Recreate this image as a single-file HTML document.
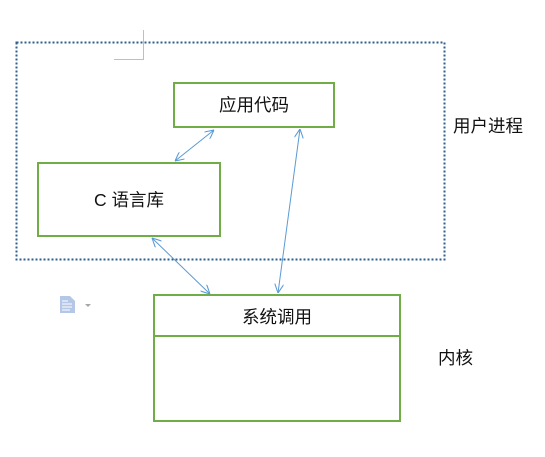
<!DOCTYPE html>
<html><head><meta charset="utf-8"><style>
html,body{margin:0;padding:0;background:#fff;width:545px;height:457px;overflow:hidden}
svg text{font-family:"Liberation Sans","Noto Sans CJK SC",sans-serif;font-size:17.5px;fill:#111}
</style></head><body>
<svg width="545" height="457" viewBox="0 0 545 457" xmlns="http://www.w3.org/2000/svg">
<defs>
<marker id="a" viewBox="0 0 10 10" refX="10" refY="5" markerWidth="9" markerHeight="9" orient="auto-start-reverse" markerUnits="userSpaceOnUse">
<path d="M0,0 L10,5 L0,10" fill="none" stroke="#5b9bd5" stroke-width="1.2"/>
</marker>
</defs>
<path d="M143.5,30 V59.5 H114" fill="none" stroke="#bfbfbf" stroke-width="1"/>
<rect x="16.5" y="42.5" width="428" height="217" fill="none" stroke="#2f5f8f" stroke-width="2" stroke-dasharray="2,2"/>
<rect x="174" y="83" width="160" height="44" fill="#fff" stroke="#70ad47" stroke-width="2"/>
<text x="254" y="111" text-anchor="middle">应用代码</text>
<rect x="38" y="163" width="182" height="73" fill="#fff" stroke="#70ad47" stroke-width="2"/>
<text x="129" y="206" text-anchor="middle">C 语言库</text>
<rect x="154" y="295" width="246" height="126" fill="#fff" stroke="#70ad47" stroke-width="2"/>
<line x1="154" y1="336" x2="400" y2="336" stroke="#70ad47" stroke-width="2"/>
<text x="277" y="323" text-anchor="middle">系统调用</text>
<text x="453" y="132">用户进程</text>
<text x="438" y="364">内核</text>
<line x1="175" y1="161" x2="214" y2="130" stroke="#5b9bd5" stroke-width="1" marker-start="url(#a)" marker-end="url(#a)"/>
<line x1="152" y1="238" x2="210" y2="294" stroke="#5b9bd5" stroke-width="1" marker-start="url(#a)" marker-end="url(#a)"/>
<line x1="300" y1="129" x2="278" y2="293" stroke="#5b9bd5" stroke-width="1" marker-start="url(#a)" marker-end="url(#a)"/>
<g>
<path d="M60,296 H70 L75,301 V313 H60 Z" fill="#b4c7e7"/>
<path d="M62,301 H68 M62,304 H72 M62,307 H72 M62,310 H70" stroke="#fff" stroke-width="1"/>
<path d="M85,304 H91 L88,307 Z" fill="#a6a6a6"/>
</g>
</svg>
</body></html>
